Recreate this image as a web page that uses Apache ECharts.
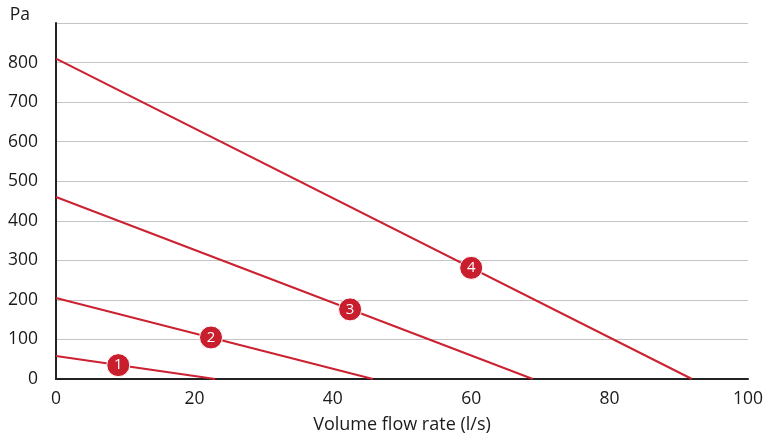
<!DOCTYPE html>
<html><head><meta charset="utf-8">
<script src="https://cdn.jsdelivr.net/npm/echarts@6/dist/echarts.min.js"></script>
<style>html,body{margin:0;padding:0;background:#fff}#c{width:767px;height:437px}</style>
</head><body><div id="c"></div>
<script>
const xTicks = [0, 20, 40, 60, 80, 100];
const yTicks = [0, 100, 200, 300, 400, 500, 600, 700, 800];
const curve1 = [[0, 58], [23, 0]];
const curve2 = [[0, 205], [45.8, 0]];
const curve3 = [[0, 460], [68.9, 0]];
const curve4 = [[0, 810], [91.9, 0]];
const markerX = [9, 22.4, 42.5, 60];
const markerY = [35, 105, 176, 281];
const markerLabels = ['1', '2', '3', '4'];

const font = '"Open Sans", "Noto Sans", sans-serif';
const red = '#cc2131';
const txt = '#1a1a1a';
const curves = [curve1, curve2, curve3, curve4];
const series = curves.map(c => ({
  type: 'line', data: c, symbol: 'none', silent: true,
  lineStyle: { color: red, width: 2 }, z: 2
}));
series.push({
  type: 'scatter', z: 5, symbolSize: 23, silent: true,
  data: markerX.map((x, i) => ({ value: [x, markerY[i]], name: markerLabels[i] })),
  itemStyle: { color: '#c81e2d', opacity: 1, borderColor: '#fff', borderWidth: 1 },
  label: { show: true, position: 'inside', formatter: p => p.name, color: '#fff', fontSize: 15, fontFamily: font }
});

const chart = echarts.init(document.getElementById('c'));
chart.setOption({
  animation: false,
  grid: { left: 56, right: 19, top: 23, bottom: 58, containLabel: false, outerBoundsMode: 'none' },
  xAxis: {
    type: 'value', min: 0, max: 100, interval: 20,
    name: 'Volume flow rate (l/s)', nameLocation: 'middle', nameGap: 37,
    nameTextStyle: { fontSize: 18, color: txt, fontFamily: font },
    axisLine: { show: true, lineStyle: { color: '#222', width: 2 } },
    axisTick: { show: false },
    splitLine: { show: false },
    axisLabel: { fontSize: 17.5, color: txt, fontFamily: font, margin: 11,
      formatter: v => xTicks.includes(v) ? String(v) : '' }
  },
  yAxis: {
    type: 'value', min: 0, max: 900, interval: 100,
    name: 'Pa', nameLocation: 'end', nameGap: -1,
    nameTextStyle: { fontSize: 17.5, color: txt, fontFamily: font, align: 'right', padding: [0, 26, 0, 0] },
    axisLine: { show: true, onZero: false, lineStyle: { color: '#222', width: 2 } },
    axisTick: { show: false },
    splitLine: { show: true, lineStyle: { color: '#c4c4c4', width: 1 } },
    axisLabel: { fontSize: 17.5, color: txt, fontFamily: font, margin: 18,
      formatter: v => yTicks.includes(v) ? String(v) : '' }
  },
  series: series
});
</script></body></html>
